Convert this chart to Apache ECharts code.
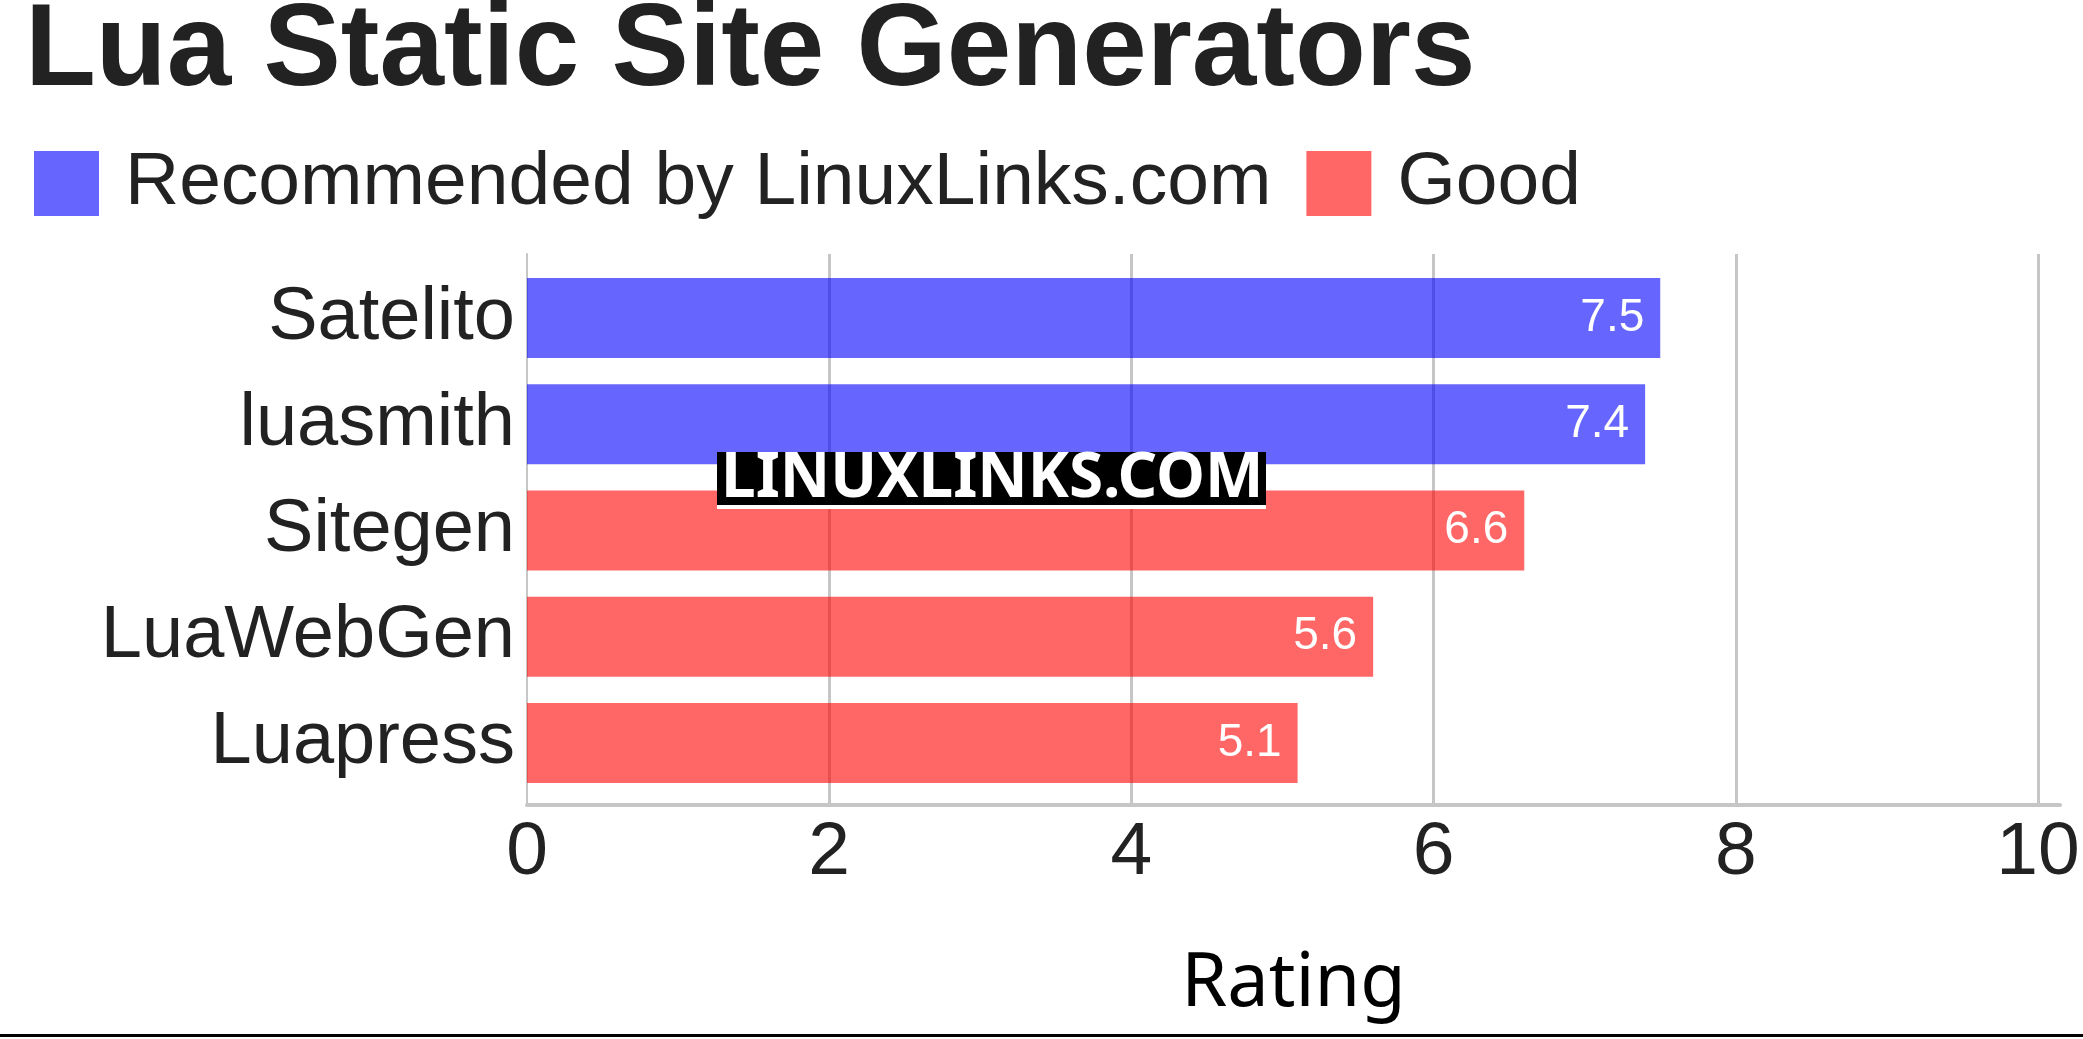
<!DOCTYPE html>
<html>
<head>
<meta charset="utf-8">
<script src="https://cdn.jsdelivr.net/npm/echarts@6/dist/echarts.min.js"></script>
<style>
html,body{margin:0;padding:0;background:#fff;}
#chart{width:2083px;height:1039px;}
</style>
</head>
<body>
<div id="chart"></div>
<script>
const titleText = 'Lua Static Site Generators';
const categories = ['Satelito', 'luasmith', 'Sitegen', 'LuaWebGen', 'Luapress'];
const seriesNames = ['Recommended by LinuxLinks.com', 'Good'];
const recommendedValues = [7.5, 7.4, '-', '-', '-'];
const goodValues = ['-', '-', 6.6, 5.6, 5.1];
const axisName = 'Rating';
const axisMin = 0;
const axisMax = 10;
const axisInterval = 2;

const chart = echarts.init(document.getElementById('chart'), null, {renderer: 'canvas'});
const sans = 'Liberation Sans';
const ext = axisMax + 22 / 151.1;

const option = {
  animation: false,
  backgroundColor: '#ffffff',
  title: {
    text: titleText,
    left: 20,
    top: -10,
    textStyle: {fontSize: 116, fontWeight: 'bold', color: '#222222', fontFamily: sans}
  },
  legend: {
    data: seriesNames,
    left: 29,
    top: 141,
    itemWidth: 65,
    itemHeight: 65,
    itemGap: 35,
    icon: 'rect',
    textStyle: {fontSize: 75, color: '#222222', fontFamily: sans, padding: [0, 0, 0, 21]}
  },
  grid: [
    {left: 527, right: 23, top: 254, height: 551, containLabel: false},
    {left: 527, right: 23, top: 265, height: 531, containLabel: false}
  ],
  xAxis: [
    {
      gridIndex: 0, type: 'value', min: axisMin, max: ext, interval: axisInterval,
      axisLine: {show: true, lineStyle: {color: '#c6c6c6', width: 4}},
      axisTick: {show: false},
      axisLabel: {fontSize: 75, color: '#222222', fontFamily: sans, margin: 11, showMaxLabel: false},
      splitLine: {show: true, showMinLine: false, showMaxLine: false, lineStyle: {color: '#c6c6c6', width: 3}},
      name: axisName,
      nameLocation: 'middle',
      nameGap: 143,
      nameTextStyle: {fontSize: 74, color: '#000000', fontFamily: 'Noto Sans'}
    },
    {
      gridIndex: 1, type: 'value', min: axisMin, max: ext, show: false
    }
  ],
  yAxis: [
    {
      gridIndex: 0, type: 'value', min: 0, max: 1,
      axisLine: {show: true, lineStyle: {color: '#c6c6c6', width: 2}},
      axisTick: {show: false}, axisLabel: {show: false}, splitLine: {show: false}
    },
    {
      gridIndex: 1, type: 'category', inverse: true, data: categories,
      axisLine: {show: false}, axisTick: {show: false},
      axisLabel: {fontSize: 74, color: '#222222', fontFamily: sans, margin: 12, padding: [12, 0, 0, 0]}
    }
  ],
  series: [
    {
      name: seriesNames[0], type: 'bar', xAxisIndex: 1, yAxisIndex: 1, stack: 'all',
      data: recommendedValues, barWidth: 80,
      itemStyle: {color: 'rgba(0,0,255,0.6)'},
      label: {show: true, position: 'insideRight', distance: 16, color: '#ffffff', fontSize: 46, fontFamily: sans}
    },
    {
      name: seriesNames[1], type: 'bar', xAxisIndex: 1, yAxisIndex: 1, stack: 'all',
      data: goodValues, barWidth: 80,
      itemStyle: {color: 'rgba(255,0,0,0.6)'},
      label: {show: true, position: 'insideRight', distance: 16, color: '#ffffff', fontSize: 46, fontFamily: sans}
    }
  ],
  graphic: [
    {type: 'rect', left: 717, top: 452, shape: {width: 549, height: 53}, style: {fill: '#000000'}, z: 100},
    {type: 'rect', left: 717, top: 505, shape: {width: 549, height: 4}, style: {fill: '#ffffff'}, z: 100},
    {type: 'text', left: 721, top: 448, style: {text: 'LINUXLINKS.COM', fill: '#ffffff', font: 'bold 62px "Noto Sans"'}, z: 101},
    {type: 'rect', left: 0, top: 1034, shape: {width: 2083, height: 3}, style: {fill: '#000000'}, z: 100}
  ]
};
chart.setOption(option);
</script>
</body>
</html>
